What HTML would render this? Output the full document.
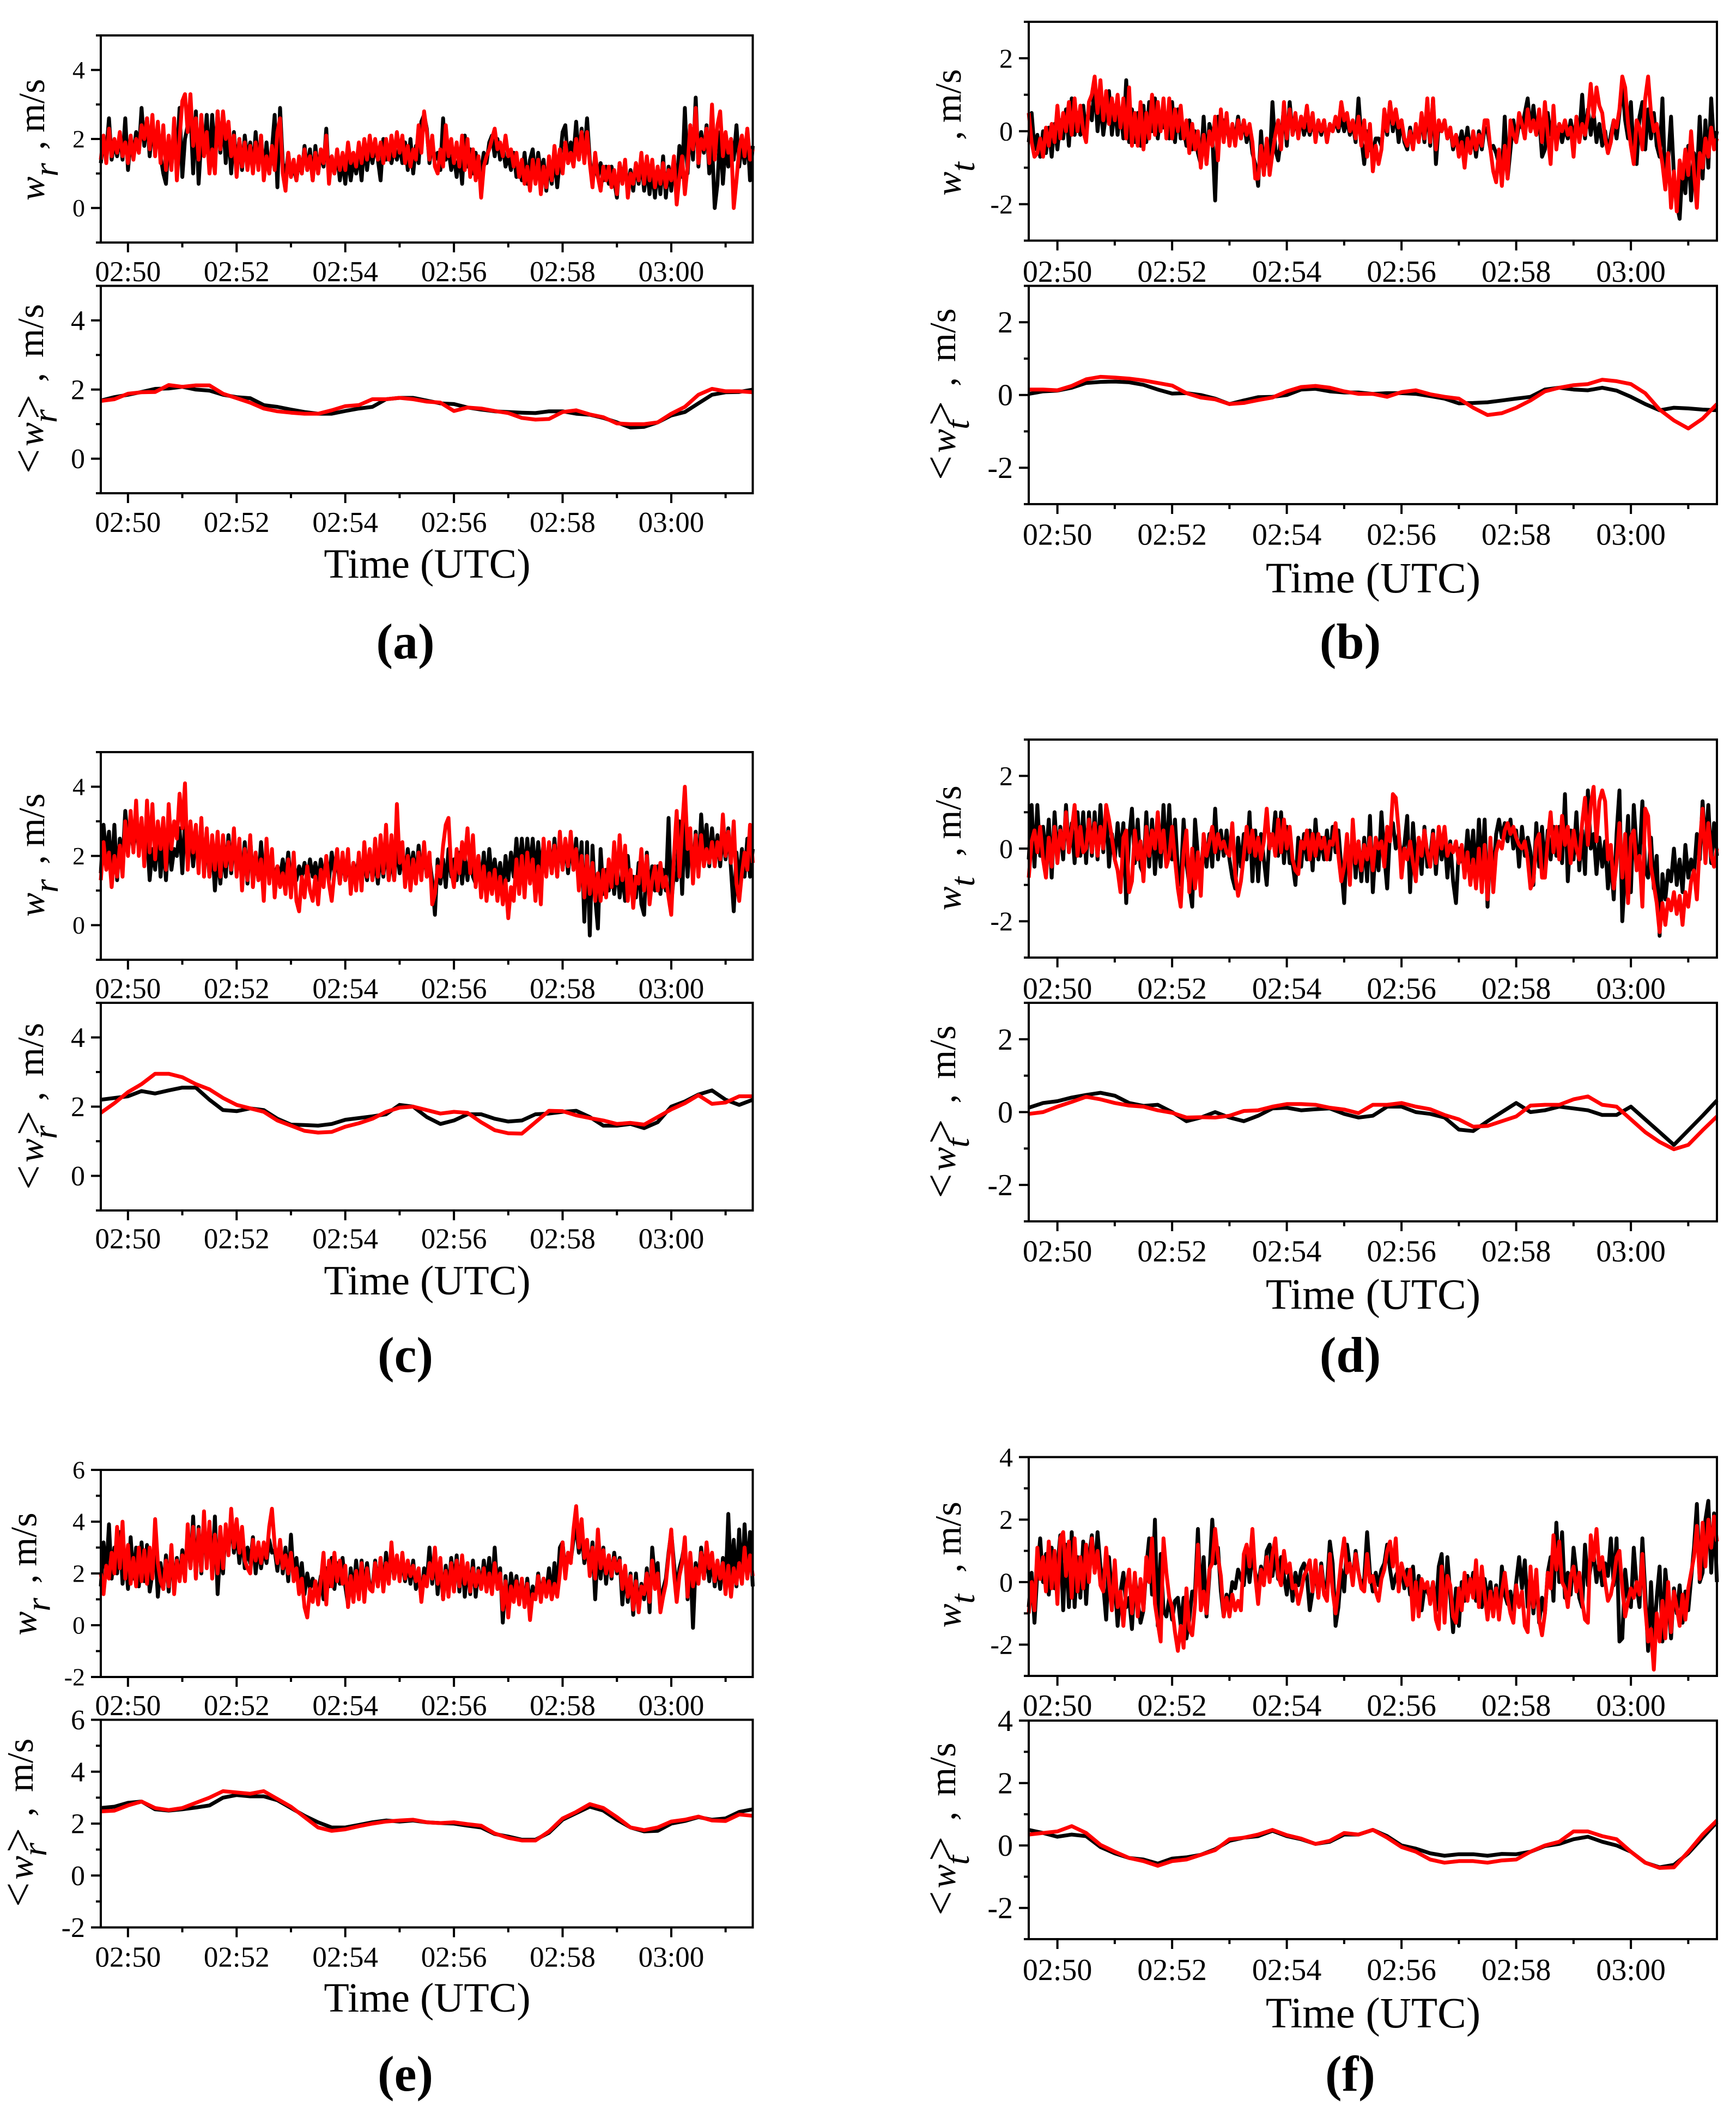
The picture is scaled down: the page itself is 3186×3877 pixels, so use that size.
<!DOCTYPE html>
<html lang="en">
<head>
<meta charset="utf-8">
<title>Radial and tangential velocity time series</title>
<style>
html,body{margin:0;padding:0;background:#fff;}
svg{display:block;font-family:"Liberation Serif",serif;}
</style>
</head>
<body>
<svg id="figure" width="3186" height="3877" viewBox="0 0 3186 3877">
<rect x="0" y="0" width="3186" height="3877" fill="#fff"/>
</svg>
<script>
// Shared axis data (minutes after 02:50)
const timeMajor=[0,2,4,6,8,10];
const timeMinor=[1,3,5,7,9,11];
const timeLabels=['02:50','02:52','02:54','02:56','02:58','03:00'];
const timeRange=[-0.5,11.5];
const rMajor=[0,2,4];
const rMinor=[-1,1,3,5];
const tMajor=[-2,0,2];
const tMinor=[-3,-1,1,3];
const eMajor=[-2,0,2,4,6];
const eMinor=[-1,1,3,5];
const fMajor=[-2,0,2,4];
const fMinor=[-3,-1,1,3];

// Instantaneous series are stored in tenths of m/s (one row = one minute).
const tenths=0.1;
const unit=1;

// (a) top
const aTopBlack=[13,20,16,26,14,19,15,21,14,26,11,20,15,22,16,29,18,26,15,24,
16,24,15,10,7,20,12,22,15,29,9,20,24,28,10,28,7,20,17,27,
12,27,14,28,16,26,13,23,10,22,12,20,11,21,14,19,11,22,12,21,
9,19,10,17,27,6,29,13,9,16,9,12,8,14,10,18,11,17,8,18,
10,16,12,23,8,15,10,16,8,14,7,15,8,14,10,16,8,19,11,18,
13,18,14,8,20,14,18,13,17,14,18,13,19,11,20,10,18,13,25,27,
23,13,19,14,16,11,26,14,17,11,15,9,16,7,21,12,17,10,16,9,
11,16,13,19,21,15,20,14,18,12,15,11,16,9,12,8,16,7,14,17,
8,16,10,14,5,13,7,15,6,14,22,24,13,19,15,25,14,23,15,26,
14,8,12,9,13,8,12,7,12,8,3,13,8,12,6,11,5,13,7,14,
5,12,4,11,3,12,4,15,3,12,5,14,6,18,9,29,10,24,14,32,
12,22,16,24,10,19,0,7,22,7,18,12,20,14,24,12,19,13,22,8,18];
const aTopRed=[14,21,13,23,15,20,16,22,15,19,13,21,14,20,16,24,20,26,17,27,
15,25,13,24,11,21,11,26,8,20,31,33,22,33,18,26,14,27,15,22,
10,17,10,28,17,28,20,25,15,21,9,20,12,19,11,18,10,19,11,21,
8,15,10,18,11,22,26,10,5,16,9,14,8,15,10,17,11,15,8,16,
10,17,13,21,7,15,10,17,11,16,11,19,13,16,12,19,13,20,14,21,
15,20,14,19,13,20,14,21,15,22,16,21,13,18,12,17,14,24,16,28,
22,14,21,12,10,17,12,24,15,20,13,19,12,21,11,20,9,17,8,15,
3,12,15,17,20,23,17,19,15,21,15,17,12,16,9,14,7,12,5,14,
7,14,4,12,6,15,8,18,10,17,10,19,13,16,12,20,14,22,13,22,
13,6,16,9,5,12,8,12,6,11,4,13,7,14,3,10,7,13,8,16,
7,15,8,14,6,12,7,13,6,11,8,15,1,9,15,4,12,24,17,29,
13,20,17,23,13,30,14,24,28,15,22,16,20,0,8,17,21,15,23,14,17];
// (a) bottom
const aLowBlack=[1.68,1.78,1.85,1.93,2.02,2.03,2.08,2.0,1.97,1.85,1.78,1.75,1.55,1.5,1.42,1.35,1.3,1.3,1.38,1.45,1.5,1.72,1.76,1.76,1.68,1.6,1.58,1.48,1.42,1.37,1.35,1.33,1.32,1.37,1.37,1.3,1.27,1.18,1.05,0.9,0.92,1.05,1.25,1.35,1.6,1.85,1.92,1.93,2.0];
const aLowRed=[1.67,1.72,1.88,1.92,1.93,2.13,2.08,2.12,2.12,1.88,1.75,1.62,1.45,1.37,1.33,1.3,1.3,1.4,1.52,1.55,1.72,1.72,1.76,1.72,1.65,1.62,1.38,1.48,1.45,1.38,1.32,1.18,1.13,1.15,1.35,1.4,1.28,1.2,1.02,1.0,1.0,1.05,1.3,1.5,1.85,2.02,1.95,1.95,1.92];

// (b) top
const bTopBlack=[-3,5,-5,-1,-7,0,-6,1,-7,2,-5,3,-2,6,-4,9,-1,5,-1,7,
-1,7,3,13,0,8,-1,5,11,-1,7,-1,6,-2,14,-3,6,-3,5,-4,
7,-3,8,0,9,-2,5,1,3,-2,8,-3,6,-2,1,-4,3,-5,0,-6,
-9,4,-9,2,-1,-19,4,0,3,2,-3,1,-2,4,-2,3,-3,1,-6,-9,
-15,0,-11,-6,-9,8,-5,-8,-2,7,-4,8,-1,3,-1,4,-1,2,-1,3,
-2,3,-1,3,-3,2,0,3,0,4,0,3,-1,2,-3,9,-2,-9,0,-5,
-6,-2,-2,-4,4,-1,8,0,5,-3,3,-3,-5,1,-4,1,-2,3,-3,7,
-4,9,-9,2,0,3,-2,1,-5,-1,-4,0,-5,1,-6,-1,-7,0,-5,1,
0,-5,-4,-6,-9,-12,4,-13,-5,3,-3,2,1,5,9,0,7,-1,4,-7,
-5,5,-1,4,-2,2,-3,1,-2,3,-2,3,-1,10,-2,6,-1,5,-3,2,
-4,0,-6,-1,3,-2,5,13,3,-2,8,-7,-9,4,8,-5,6,-2,5,-4,
-7,9,-15,-8,4,-12,-20,-24,-10,-17,-4,-19,-6,-13,4,-13,3,-10,9,-4,0];
const bTopRed=[5,-3,-7,-6,-2,-7,1,-4,2,-3,7,-2,5,0,8,-1,9,0,7,0,
-3,8,10,15,5,14,3,11,2,9,3,10,1,9,-2,12,-4,5,-4,8,
-5,5,-2,10,-1,8,0,9,-2,9,-2,6,0,7,-2,3,-6,2,-5,0,
-10,-1,-9,0,-4,4,-8,6,-3,5,-4,2,-4,3,-2,3,-1,2,-3,-13,
-13,-4,-12,-2,-12,-6,-1,3,-5,8,-2,6,-1,5,-2,4,1,7,0,5,
-3,3,0,3,-3,2,0,4,1,8,3,5,0,3,-2,4,-4,3,-7,2,
-11,-4,-9,-5,6,0,8,2,6,1,3,-2,-4,0,-5,2,-3,5,-2,9,
-3,9,-5,3,0,3,-2,1,-4,-1,-7,-3,-10,-2,-6,0,-5,-1,-4,3,
3,-5,-11,-14,-5,-15,-4,-13,3,-1,-3,5,2,-2,6,0,3,-1,6,-3,
8,-1,-9,7,-5,2,0,3,-1,1,-7,4,-3,2,-1,4,13,4,12,7,
5,-2,-6,-3,3,1,6,15,12,2,-4,-9,3,1,-5,9,15,5,0,2,
-4,-9,-16,-6,-21,-11,-22,-8,-13,-5,-12,0,-11,-21,-6,-10,-2,-7,1,-5,-2];
// (b) bottom
const bLowBlack=[0.03,0.1,0.12,0.2,0.33,0.36,0.37,0.35,0.28,0.15,0.04,0.05,0,-0.1,-0.25,-0.15,-0.06,-0.05,0,0.15,0.17,0.1,0.07,0.07,0.03,0.05,0.05,0.03,-0.03,-0.1,-0.23,-0.22,-0.2,-0.15,-0.1,-0.05,0.15,0.2,0.15,0.13,0.2,0.12,-0.05,-0.25,-0.42,-0.35,-0.37,-0.4,-0.42];
const bLowRed=[0.15,0.15,0.13,0.25,0.43,0.5,0.48,0.45,0.4,0.33,0.26,0.05,-0.07,-0.12,-0.25,-0.22,-0.14,-0.07,0.1,0.22,0.25,0.2,0.1,0.03,0.03,-0.05,0.08,0.13,0.02,-0.05,-0.1,-0.35,-0.55,-0.5,-0.35,-0.15,0.1,0.2,0.27,0.3,0.42,0.38,0.3,0.05,-0.4,-0.7,-0.92,-0.65,-0.25];

// (c) top
const cTopBlack=[15,29,20,27,15,29,13,25,18,33,24,27,22,28,24,26,20,26,13,22,
16,27,14,24,13,26,16,22,20,28,15,30,20,27,17,26,18,30,16,24,
14,23,10,21,12,22,14,26,15,25,16,22,14,24,12,25,14,20,13,24,
13,22,15,17,14,17,14,19,13,21,12,18,13,17,14,18,13,19,14,18,
13,19,14,18,13,21,15,19,12,20,13,18,12,18,14,20,15,18,13,21,
13,19,12,21,14,23,13,20,13,24,15,20,14,22,15,21,13,23,14,22,
14,19,13,3,19,12,19,11,22,14,19,13,21,12,20,13,21,14,12,20,
12,21,11,22,13,19,12,18,10,20,13,21,14,25,15,25,14,25,16,25,
14,24,15,24,16,23,15,25,14,26,16,24,15,24,16,25,13,24,1,24,
-3,23,8,-1,22,9,16,10,17,9,18,8,15,7,20,10,14,8,18,6,
3,21,9,17,10,17,9,16,10,31,6,15,13,30,9,30,14,26,15,27,
15,32,20,29,17,28,19,26,17,27,19,28,16,4,21,12,22,14,25,14,22];
const cTopRed=[13,24,16,21,11,20,14,23,14,30,20,33,21,36,20,31,17,36,21,35,
19,30,22,31,16,35,22,30,25,38,28,41,16,30,21,29,15,31,14,28,
14,26,16,27,14,26,17,24,16,28,14,25,10,22,13,26,11,21,13,19,
7,25,12,22,8,17,11,15,9,19,8,21,7,4,14,8,17,10,7,14,
6,16,11,20,12,7,15,22,12,21,13,22,9,18,10,21,10,24,14,22,
13,25,14,26,15,29,13,26,13,35,18,24,11,20,10,19,12,21,13,24,
14,21,6,9,17,14,23,29,31,16,11,22,15,24,19,28,15,26,11,20,
8,17,7,15,9,16,7,14,6,13,2,11,7,19,9,20,8,21,12,19,
7,17,6,25,14,24,15,23,14,27,16,25,17,27,16,22,10,20,8,20,
9,18,7,15,7,16,8,19,11,24,12,26,13,23,7,16,5,14,12,22,
10,20,6,13,17,10,18,11,14,8,3,20,33,14,28,40,22,28,12,26,
14,26,17,22,18,24,17,24,19,32,20,27,18,30,12,7,15,21,16,29,18];
// (c) bottom
const cLowBlack=[2.2,2.25,2.3,2.45,2.38,2.47,2.55,2.55,2.2,1.9,1.87,1.95,1.9,1.65,1.48,1.47,1.45,1.5,1.62,1.67,1.72,1.78,2.05,2.0,1.7,1.5,1.6,1.78,1.78,1.65,1.57,1.6,1.78,1.8,1.85,1.88,1.7,1.45,1.45,1.5,1.38,1.55,2.0,2.15,2.35,2.47,2.2,2.05,2.2];
const cLowRed=[1.82,2.1,2.42,2.65,2.95,2.95,2.85,2.65,2.5,2.25,2.05,1.95,1.85,1.6,1.45,1.3,1.25,1.27,1.42,1.52,1.65,1.85,1.97,2.0,1.9,1.8,1.85,1.82,1.55,1.32,1.23,1.22,1.55,1.88,1.87,1.75,1.67,1.6,1.5,1.53,1.48,1.7,1.92,2.1,2.33,2.08,2.12,2.3,2.3];

// (d) top
const dTopBlack=[-3,12,-5,12,-2,6,-3,8,-8,10,-2,6,-3,12,-1,7,-4,10,-2,10,
-4,10,-2,10,-3,12,-1,11,-5,4,-3,7,-2,7,-15,3,11,-4,8,-5,
-7,10,-5,8,-7,4,-5,12,-3,12,-3,8,-6,-10,8,-4,-10,-16,8,-2,
-8,3,-5,4,-5,11,-3,5,-2,5,-3,-8,-11,3,-5,4,-3,10,-9,5,
-9,4,-3,-10,4,1,10,-2,10,-4,6,-4,-4,-10,3,-5,4,-3,5,-6,
8,-3,3,-3,5,-3,6,-1,5,-5,-15,3,-6,5,-8,2,-9,3,-9,9,
-12,1,-6,10,-2,-11,5,7,0,4,-3,1,9,-12,7,-4,2,-7,6,-5,
-2,5,-7,4,-3,3,-8,2,-9,-15,0,-3,-5,5,-4,5,-9,8,-6,8,
-16,2,-8,4,8,3,7,2,8,0,5,-5,6,-2,3,-1,-10,7,-5,6,
-6,5,-3,6,-2,6,-4,15,-9,5,-3,10,-6,5,-7,16,0,4,-7,3,
-5,2,-11,-3,-14,4,16,-20,-6,9,-12,12,0,-3,13,-6,-8,3,-11,-2,
-24,-7,-14,-6,-9,0,-10,-3,-12,1,-8,-3,-7,4,-3,13,0,12,-4,7,-2];
const dTopRed=[-8,2,5,-1,6,-3,-8,3,-5,6,-4,5,0,10,-1,5,12,-2,6,-1,
0,8,-1,7,-2,6,0,12,8,3,-3,-6,-12,3,5,-12,-9,5,-3,2,
-9,6,-2,5,0,10,-1,5,-5,-2,6,-3,-11,-16,-1,5,-12,0,-11,-1,
-13,4,-2,2,6,-1,4,0,2,-1,-2,7,-7,-13,-9,-2,6,-1,5,-2,
3,-3,2,11,0,4,-2,8,-1,8,0,6,-3,-6,-7,2,0,5,-3,4,
-2,4,0,3,-3,2,1,7,-2,-9,-5,4,-10,8,-4,2,-6,1,-3,3,
-6,3,0,2,-5,6,2,15,14,5,-8,0,-3,2,-4,-9,3,-2,5,-1,
-5,4,-4,6,0,6,-2,1,-1,2,-4,1,-8,-1,-10,-3,-11,0,-12,1,
-14,3,-12,-1,2,0,5,7,4,6,3,1,0,2,-3,-11,-9,2,4,-8,
-8,2,10,-1,6,-3,9,1,6,-4,5,0,-3,7,14,1,12,17,2,13,
16,13,-3,1,-11,-4,7,-8,4,-15,3,5,-6,-2,-16,11,9,-5,-10,-15,
-23,-15,-21,-14,-17,-12,-18,-13,-21,-12,-16,-9,-6,-14,1,11,-4,7,-2,-5,0];
// (d) bottom
const dLowBlack=[0.12,0.25,0.3,0.4,0.47,0.53,0.45,0.25,0.17,0.2,0,-0.25,-0.15,0,-0.15,-0.25,-0.1,0.1,0.12,0.05,0.08,0.1,-0.05,-0.15,-0.1,0.15,0.15,0,-0.05,-0.15,-0.48,-0.52,-0.25,0,0.25,0,0.05,0.15,0.1,0.05,-0.08,-0.08,0.15,-0.2,-0.55,-0.9,-0.5,-0.1,0.32];
const dLowRed=[-0.05,0,0.15,0.28,0.42,0.35,0.25,0.18,0.15,0.05,-0.02,-0.15,-0.14,-0.15,-0.1,0.03,0.05,0.15,0.22,0.22,0.2,0.12,0.07,-0.03,0.2,0.2,0.25,0.15,0.08,-0.08,-0.2,-0.4,-0.38,-0.25,-0.12,0.18,0.2,0.2,0.35,0.43,0.2,0.15,-0.2,-0.55,-0.82,-1.02,-0.9,-0.5,-0.12];

// (e) top
const eTopBlack=[15,32,20,39,18,30,20,36,16,27,14,34,18,30,15,32,17,31,13,20,
30,11,24,14,27,13,29,15,26,18,29,20,36,22,42,18,38,20,41,24,
39,20,42,12,30,20,38,28,41,28,36,24,35,22,30,24,34,20,31,22,
30,24,33,28,29,21,32,20,30,17,35,18,26,16,24,12,20,14,18,13,
13,19,10,22,15,26,14,24,16,26,15,8,22,12,25,13,25,14,24,15,
14,25,15,26,14,28,17,29,18,26,19,24,17,24,16,25,14,20,10,22,
17,30,16,28,12,24,10,23,14,26,16,27,13,26,11,23,12,25,11,22,
14,25,16,26,13,30,14,22,1,19,6,20,12,19,10,17,8,18,7,15,
10,20,11,18,13,22,11,24,14,30,32,20,28,25,33,38,28,35,24,31,
21,32,10,30,18,30,16,27,18,28,20,26,8,22,9,20,4,20,6,16,
10,22,5,30,18,24,6,14,18,28,36,24,14,22,26,32,10,25,-1,24,
17,30,18,28,17,26,15,24,14,26,15,43,17,33,15,37,16,39,20,36,15];
const eTopRed=[20,12,23,18,28,20,38,22,40,18,31,16,26,15,30,17,29,16,30,18,
41,24,17,14,25,15,31,12,25,17,27,17,39,22,38,18,37,21,44,22,
40,18,35,20,38,22,39,27,45,30,41,28,38,25,22,20,33,25,32,24,
32,26,38,45,31,24,33,22,27,20,28,17,22,12,18,7,3,14,9,17,
8,17,28,8,25,15,28,17,25,16,23,7,19,9,21,10,24,9,22,14,
13,24,15,26,13,24,16,32,18,27,17,28,18,25,19,23,17,22,9,19,
15,24,18,30,16,26,10,21,11,24,13,25,15,27,16,24,13,22,15,21,
14,22,13,20,12,24,14,20,6,17,3,15,9,17,8,18,7,16,2,12,
10,19,9,18,11,17,10,16,11,20,32,18,28,24,37,46,30,41,26,33,
19,30,18,37,22,29,20,27,19,26,21,25,14,23,11,19,6,17,5,15,
12,20,9,25,14,20,5,11,16,27,37,20,9,19,24,34,11,28,15,22,
16,28,18,32,22,28,17,25,18,24,12,23,11,22,16,24,16,30,18,27,19];
// (e) bottom
const eLowBlack=[2.6,2.65,2.8,2.85,2.55,2.5,2.55,2.62,2.7,3.0,3.1,3.05,3.05,2.9,2.6,2.3,2.05,1.85,1.85,1.95,2.05,2.12,2.08,2.12,2.05,2.02,2.0,1.92,1.85,1.6,1.5,1.38,1.38,1.65,2.15,2.4,2.65,2.5,2.15,1.85,1.7,1.72,2.0,2.1,2.25,2.15,2.2,2.45,2.55];
const eLowRed=[2.47,2.5,2.7,2.85,2.6,2.52,2.6,2.8,3.0,3.25,3.2,3.15,3.25,2.95,2.65,2.25,1.85,1.72,1.78,1.9,2.0,2.08,2.12,2.15,2.05,2.02,2.05,1.98,1.92,1.62,1.45,1.35,1.35,1.7,2.2,2.45,2.75,2.6,2.25,1.85,1.75,1.85,2.08,2.15,2.27,2.12,2.1,2.35,2.3];

// (f) top
const fTopBlack=[-8,3,-13,3,14,0,9,-4,11,-2,5,15,-9,12,-8,16,-8,8,-5,13,
-7,8,15,3,16,5,-1,-12,8,-4,0,-14,-3,3,-8,-5,-15,2,-6,-13,
-9,5,14,-4,20,-14,9,-9,-11,-5,-12,-6,-5,-14,-5,-18,-12,-3,-3,17,
-7,8,-11,2,20,6,11,-3,-11,-4,-7,0,-2,4,1,-1,9,0,9,3,
-1,5,0,10,12,2,9,1,8,2,-4,4,-6,3,-1,4,6,2,-9,-3,
5,-5,6,-2,-1,13,6,-14,-8,4,-3,12,5,1,10,3,-1,1,16,3,
-3,3,-1,4,6,12,4,-2,2,4,5,-2,4,-4,5,-7,2,-9,-2,-3,
-5,0,-9,5,9,-10,8,-4,-16,-2,-14,0,-6,2,-3,3,-6,1,-8,1,
-6,0,-9,-1,-10,5,-4,-7,-3,-9,0,8,-2,7,-8,3,-10,2,-13,-5,
-10,3,8,-6,19,0,16,-5,3,-4,11,3,-5,-8,12,-1,5,9,0,7,
-1,6,2,14,-1,14,-19,-18,4,-5,-8,11,-1,-8,14,-3,-22,0,-19,-5,
5,-19,4,-6,-18,-2,-10,-1,-13,-3,-9,1,11,25,0,3,20,26,3,22,0];
const fTopRed=[-10,0,-9,11,1,8,-3,13,-2,10,-7,14,16,2,13,-5,14,-3,8,-2,
12,0,14,3,10,-1,-3,11,0,-9,7,-8,-3,-14,-2,4,-10,3,-11,1,
-9,8,0,14,-7,-13,-19,14,3,-5,-8,-16,-22,-14,-21,-2,-15,-17,-7,12,
-9,-3,-10,4,6,17,8,2,-11,-5,-11,-4,-9,-6,-9,9,12,5,17,2,
-7,4,-1,8,0,9,14,2,-1,10,3,6,-2,-1,-7,-3,2,4,7,-3,
7,-5,5,-4,-6,9,-3,-10,-2,7,14,3,6,-1,9,3,-2,-3,9,0,
2,-3,-6,1,4,10,13,5,14,-3,6,2,-1,4,-12,0,-11,1,-2,0,
-7,0,-12,-15,5,-13,2,-1,-11,-13,-2,-9,3,-6,1,-5,7,-8,5,-4,
-12,-3,-11,-2,-12,-3,3,-5,-10,-13,-1,-8,-3,-14,-16,5,-8,4,-12,-17,
-10,3,-2,15,4,13,0,-2,-8,2,5,-3,3,-6,-12,-13,15,7,17,4,
8,0,-6,-4,1,8,10,-2,-11,-6,-2,-5,0,-4,9,-8,-19,-15,-28,-10,
-19,-6,-18,0,-16,-3,-8,-14,-4,-12,-2,3,8,18,1,19,5,20,11,21,13];
// (f) bottom
const fLowBlack=[0.5,0.4,0.28,0.35,0.3,-0.05,-0.25,-0.4,-0.45,-0.58,-0.42,-0.38,-0.3,-0.12,0.15,0.25,0.3,0.47,0.3,0.2,0.05,0.12,0.35,0.35,0.5,0.3,0,-0.1,-0.25,-0.33,-0.28,-0.28,-0.33,-0.27,-0.28,-0.2,-0.02,0.05,0.2,0.28,0.12,0,-0.2,-0.55,-0.7,-0.62,-0.25,0.25,0.75];
const fLowRed=[0.35,0.4,0.45,0.62,0.4,0.02,-0.2,-0.4,-0.5,-0.65,-0.5,-0.45,-0.3,-0.15,0.2,0.25,0.35,0.5,0.33,0.22,0.05,0.15,0.4,0.35,0.5,0.25,-0.05,-0.2,-0.45,-0.55,-0.5,-0.5,-0.55,-0.48,-0.45,-0.2,0,0.12,0.45,0.45,0.3,0.2,-0.2,-0.55,-0.72,-0.7,-0.2,0.35,0.8];

const svg=document.getElementById('figure');
const SVGNS=svg.namespaceURI;

function addLine(parent,x1,y1,x2,y2,w,name){
  const el=document.createElementNS(SVGNS,'line');
  
  
  el.setAttribute('x1',x1);el.setAttribute('y1',y1);el.setAttribute('x2',x2);el.setAttribute('y2',y2);
  el.setAttribute('stroke','#000');el.setAttribute('stroke-width',w);
  parent.appendChild(el);
}
function addText(parent,x,y,str,size,anchor,weight,name){
  const el=document.createElementNS(SVGNS,'text');
  
  
  el.setAttribute('x',x);el.setAttribute('y',y);
  el.setAttribute('font-size',size);el.setAttribute('text-anchor',anchor);
  if(weight)el.setAttribute('font-weight',weight);
  el.textContent=str;
  parent.appendChild(el);
}
function addSpan(parent,str,x,dy,size,italic){
  const s=document.createElementNS(SVGNS,'tspan');
  s.setAttribute('x',x);s.setAttribute('dy',dy);s.setAttribute('font-size',size);
  if(italic)s.setAttribute('font-style','italic');
  s.textContent=str;
  parent.appendChild(s);
}
function addYTitle(parent,sub,isMean,bx,by,len,name){
  const el=document.createElementNS(SVGNS,'text');
  
  
  el.setAttribute('transform','translate('+bx+','+by+') rotate(-90)');
  el.setAttribute('y',0);
  const mx=len-98;
  if(isMean){
    addSpan(el,'<',0,0,80,false);
    addSpan(el,'w',50,0,66,true);
    addSpan(el,sub,93,25,64,true);
    addSpan(el,'>',100,-25,80,false);
    addSpan(el,',',mx-45,0,68,false);
    addSpan(el,'m/s',mx,0,68,false);
  }else{
    addSpan(el,'w',0,0,66,true);
    addSpan(el,sub,44,25,64,true);
    addSpan(el,',',mx-32,-25,68,false);
    addSpan(el,'m/s',mx,0,68,false);
  }
  parent.appendChild(el);
}
function addSeries(parent,values,scale,color,width,xs,ys,name){
  let d='';
  values.forEach(function(v,i){
    const t=timeRange[0]+(timeRange[1]-timeRange[0])*i/(values.length-1);
    d+=(i?'L':'M')+xs(t).toFixed(1)+' '+ys(v*scale).toFixed(1);
  });
  const el=document.createElementNS(SVGNS,'path');
  
  
  el.setAttribute('d',d);el.setAttribute('fill','none');
  el.setAttribute('stroke',color);el.setAttribute('stroke-width',width);
  el.setAttribute('stroke-linejoin','round');
  parent.appendChild(el);
}
function drawPanel(p){
  const g=document.createElementNS(SVGNS,'g');
  
  
  svg.appendChild(g);
  const xs=function(t){return p.left+(t-timeRange[0])/(timeRange[1]-timeRange[0])*(p.right-p.left);};
  const ys=function(v){return p.bottom-(v-p.yRange[0])/(p.yRange[1]-p.yRange[0])*(p.bottom-p.top);};
  addSeries(g,p.black,p.scale,'#000',p.lw,xs,ys,p.name+'-black-series');
  addSeries(g,p.red,p.scale,'#f00',p.lw,xs,ys,p.name+'-red-series');
  const frame=document.createElementNS(SVGNS,'rect');
  
  
  frame.setAttribute('x',p.left);frame.setAttribute('y',p.top);
  frame.setAttribute('width',p.right-p.left);frame.setAttribute('height',p.bottom-p.top);
  frame.setAttribute('fill','none');frame.setAttribute('stroke','#000');frame.setAttribute('stroke-width',4);
  g.appendChild(frame);
  timeMajor.forEach(function(t,i){
    addLine(g,xs(t),p.bottom,xs(t),p.bottom+18,4,p.name+'-x-tick');
    addText(g,xs(t),p.xLabelY+0.338*p.xSize,timeLabels[i],p.xSize,'middle',null,p.name+'-x-tick-label');
  });
  timeMinor.forEach(function(t){
    addLine(g,xs(t),p.bottom,xs(t),p.bottom+9,4,p.name+'-x-minor-tick');
  });
  p.yMajor.forEach(function(v){
    addLine(g,p.left-18,ys(v),p.left,ys(v),4,p.name+'-y-tick');
    addText(g,p.left-29,ys(v)+0.338*p.ySize,String(v),p.ySize,'end',null,p.name+'-y-tick-label');
  });
  p.yMinor.forEach(function(v){
    addLine(g,p.left-9,ys(v),p.left,ys(v),4,p.name+'-y-minor-tick');
  });
  addYTitle(g,p.sub,p.mean,p.titleX,p.titleY,p.titleLen,p.name+'-y-title');
}

const R5=[-1,5],T3=[-3,3],E6=[-2,6],F4=[-3,4];
// Left column
drawPanel({name:'a-instant',left:185,right:1381.5,top:65,bottom:445,yRange:R5,yMajor:rMajor,yMinor:rMinor,black:aTopBlack,red:aTopRed,scale:tenths,lw:7,xLabelY:498,xSize:53,ySize:46,sub:'r',mean:false,titleX:81,titleY:368,titleLen:223});
drawPanel({name:'a-mean',left:185,right:1381.5,top:524.5,bottom:905,yRange:R5,yMajor:rMajor,yMinor:rMinor,black:aLowBlack,red:aLowRed,scale:unit,lw:7,xLabelY:958,xSize:53,ySize:52,sub:'r',mean:true,titleX:79,titleY:869,titleLen:311});
drawPanel({name:'c-instant',left:185,right:1381.5,top:1380,bottom:1761,yRange:R5,yMajor:rMajor,yMinor:rMinor,black:cTopBlack,red:cTopRed,scale:tenths,lw:7,xLabelY:1813.7,xSize:53,ySize:46,sub:'r',mean:false,titleX:81,titleY:1682,titleLen:226});
drawPanel({name:'c-mean',left:185,right:1381.5,top:1840,bottom:2221,yRange:R5,yMajor:rMajor,yMinor:rMinor,black:cLowBlack,red:cLowRed,scale:unit,lw:7,xLabelY:2272.8,xSize:53,ySize:52,sub:'r',mean:true,titleX:79,titleY:2183,titleLen:306});
drawPanel({name:'e-instant',left:185,right:1381.5,top:2697,bottom:3077,yRange:E6,yMajor:eMajor,yMinor:eMinor,black:eTopBlack,red:eTopRed,scale:tenths,lw:7,xLabelY:3129,xSize:53,ySize:46,sub:'r',mean:false,titleX:66.6,titleY:3000.6,titleLen:225});
drawPanel({name:'e-mean',left:185,right:1381.5,top:3155.5,bottom:3536.5,yRange:E6,yMajor:eMajor,yMinor:eMinor,black:eLowBlack,red:eLowRed,scale:unit,lw:7,xLabelY:3590.6,xSize:53,ySize:52,sub:'r',mean:true,titleX:60,titleY:3499,titleLen:309});
// Right column
drawPanel({name:'b-instant',left:1888,right:3151,top:40,bottom:441.5,yRange:T3,yMajor:tMajor,yMinor:tMinor,black:bTopBlack,red:bTopRed,scale:tenths,lw:7,xLabelY:498,xSize:56,ySize:50,sub:'t',mean:false,titleX:1763,titleY:359,titleLen:232});
drawPanel({name:'b-mean',left:1888,right:3151,top:524.5,bottom:925,yRange:T3,yMajor:tMajor,yMinor:tMinor,black:bLowBlack,red:bLowRed,scale:unit,lw:7,xLabelY:980.5,xSize:56,ySize:56,sub:'t',mean:true,titleX:1753,titleY:881,titleLen:315});
drawPanel({name:'d-instant',left:1888,right:3151,top:1357,bottom:1757,yRange:T3,yMajor:tMajor,yMinor:tMinor,black:dTopBlack,red:dTopRed,scale:tenths,lw:7,xLabelY:1813.7,xSize:56,ySize:50,sub:'t',mean:false,titleX:1763,titleY:1670.5,titleLen:229});
drawPanel({name:'d-mean',left:1888,right:3151,top:1840,bottom:2241,yRange:T3,yMajor:tMajor,yMinor:tMinor,black:dLowBlack,red:dLowRed,scale:unit,lw:7,xLabelY:2295.8,xSize:56,ySize:56,sub:'t',mean:true,titleX:1753,titleY:2198.6,titleLen:317});
drawPanel({name:'f-instant',left:1888,right:3151,top:2673.5,bottom:3075,yRange:F4,yMajor:fMajor,yMinor:fMinor,black:fTopBlack,red:fTopRed,scale:tenths,lw:7,xLabelY:3129,xSize:56,ySize:50,sub:'t',mean:false,titleX:1763,titleY:2986.5,titleLen:231});
drawPanel({name:'f-mean',left:1888,right:3151,top:3157,bottom:3558,yRange:F4,yMajor:fMajor,yMinor:fMinor,black:fLowBlack,red:fLowRed,scale:unit,lw:7,xLabelY:3614,xSize:56,ySize:56,sub:'t',mean:true,titleX:1753,titleY:3514.7,titleLen:317});

// X-axis titles
addText(svg,784,1034+26,'Time (UTC)',76,'middle',null,'x-axis-title-a');
addText(svg,2520,1060+27,'Time (UTC)',79,'middle',null,'x-axis-title-b');
addText(svg,784,2349+26,'Time (UTC)',76,'middle',null,'x-axis-title-c');
addText(svg,2520,2374.6+27,'Time (UTC)',79,'middle',null,'x-axis-title-d');
addText(svg,784,3665+26,'Time (UTC)',76,'middle',null,'x-axis-title-e');
addText(svg,2520,3693+27,'Time (UTC)',79,'middle',null,'x-axis-title-f');
// Subfigure captions
addText(svg,744,1180+28,'(a)',92,'middle','bold','caption-a');
addText(svg,2478,1180+28,'(b)',92,'middle','bold','caption-b');
addText(svg,744,2489+28,'(c)',92,'middle','bold','caption-c');
addText(svg,2478,2489+28,'(d)',92,'middle','bold','caption-d');
addText(svg,744,3808+28,'(e)',92,'middle','bold','caption-e');
addText(svg,2478,3808+28,'(f)',92,'middle','bold','caption-f');
</script>
</body>
</html>
